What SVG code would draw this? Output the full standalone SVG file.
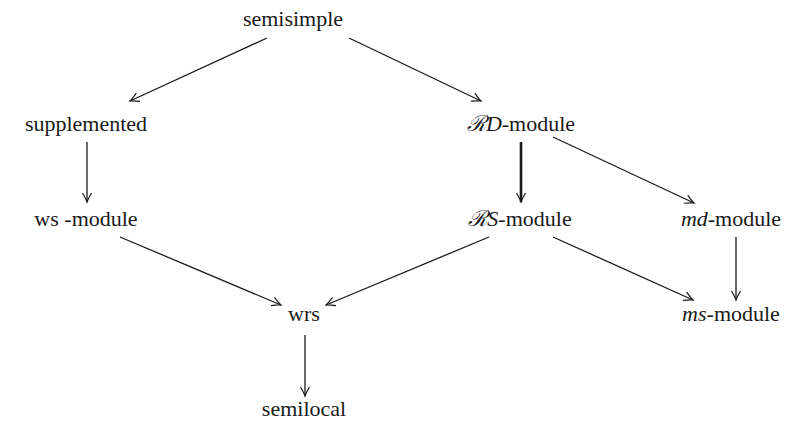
<svg xmlns="http://www.w3.org/2000/svg" width="802" height="428" viewBox="0 0 802 428">
  <defs>
    <!-- open arrowhead shared by every connector -->
    <marker id="head" viewBox="-10 -6 12 12" refX="0" refY="0" markerWidth="12" markerHeight="12" markerUnits="userSpaceOnUse" orient="auto">
      <path d="M-9,-4.5 Q-3,-1 0,0 Q-3,1 -9,4.5" fill="none" stroke="#1a1a1a" stroke-width="1.2"/>
    </marker>
  </defs>

  <!-- connectors: common stroke settings inherited from the group -->
  <g id="edges" fill="none" stroke="#1a1a1a" stroke-width="1.3" marker-end="url(#head)">
    <line x1="267" y1="38" x2="130" y2="101"/>
    <line x1="349" y1="38" x2="481" y2="101"/>
    <line x1="87" y1="142" x2="87" y2="202"/>
    <line x1="521" y1="142" x2="521" y2="202" stroke-width="2.6"/>
    <line x1="553" y1="137" x2="694" y2="203"/>
    <line x1="736" y1="237" x2="736" y2="300"/>
    <line x1="120" y1="237" x2="281" y2="305"/>
    <line x1="489" y1="237" x2="326" y2="305"/>
    <line x1="553" y1="237" x2="693" y2="300"/>
    <line x1="305" y1="335" x2="305" y2="396"/>
  </g>

  <!-- node labels: shared font settings inherited from the group -->
  <g id="nodes" font-family="Liberation Serif" font-size="22" fill="#1a1a1a" text-anchor="middle">
    <g id="semisimple"><text x="293" y="26">semisimple</text></g>
    <g id="supplemented"><text x="86" y="131">supplemented</text></g>
    <g id="rd-module"><text x="521" y="131"><tspan font-family="DejaVu Serif" font-style="italic">&#8475;</tspan><tspan font-style="italic">D</tspan>-module</text></g>
    <g id="ws-module"><text x="86" y="226">ws -module</text></g>
    <g id="rs-module"><text x="520" y="226"><tspan font-family="DejaVu Serif" font-style="italic">&#8475;</tspan><tspan font-style="italic">S</tspan>-module</text></g>
    <g id="md-module"><text x="731" y="226"><tspan font-style="italic">md</tspan>-module</text></g>
    <g id="wrs"><text x="304" y="321">wrs</text></g>
    <g id="ms-module"><text x="731" y="321"><tspan font-style="italic">ms</tspan>-module</text></g>
    <g id="semilocal"><text x="304" y="416">semilocal</text></g>
  </g>
</svg>
